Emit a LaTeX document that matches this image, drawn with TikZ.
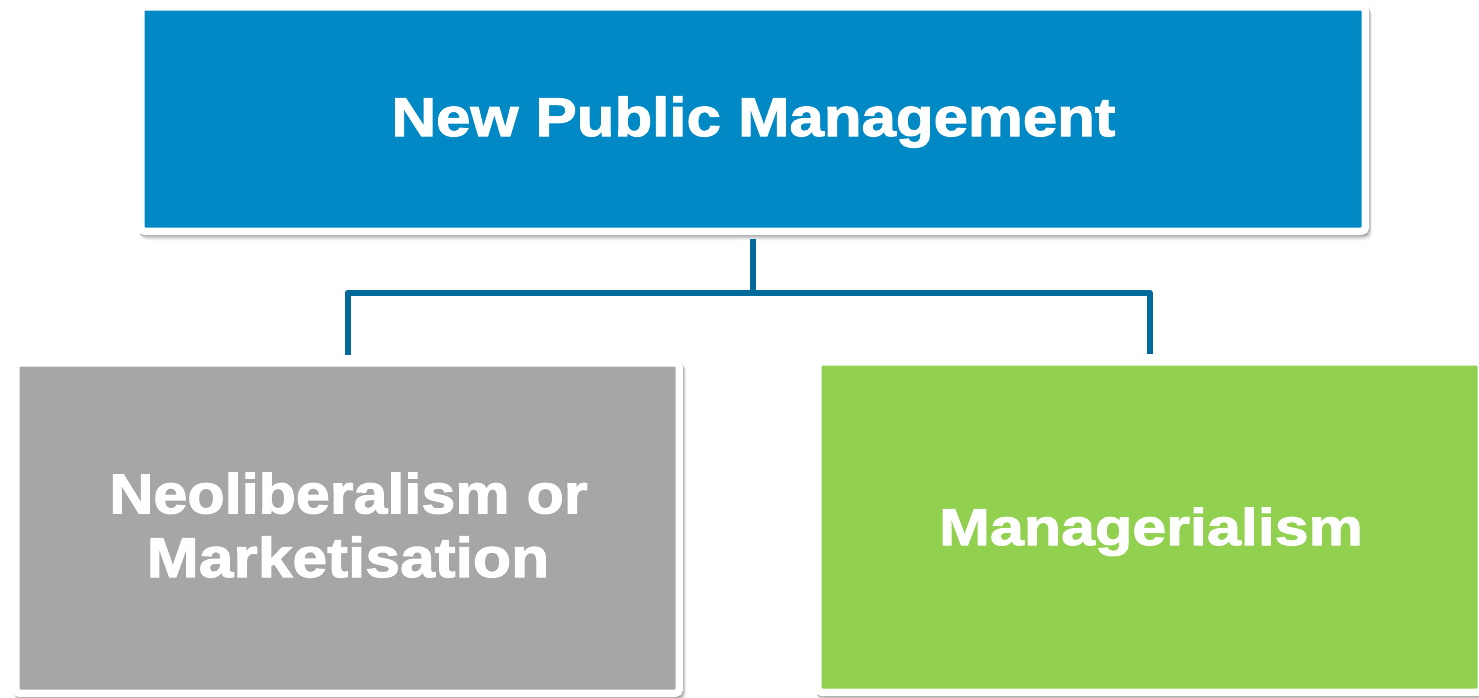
\documentclass[tikz,border=0pt]{standalone}
\usepackage{fontspec}
\setmainfont{Liberation Sans}
\newfontfamily\fontTop[FakeStretch=1.133,FakeBold=2]{Liberation Sans}
\newfontfamily\fontLeft[FakeStretch=1.09,FakeBold=2]{Liberation Sans}
\newfontfamily\fontLeftB[FakeStretch=1.115,FakeBold=2]{Liberation Sans}
\newfontfamily\fontRight[FakeStretch=1.18,FakeBold=2]{Liberation Sans}
\definecolor{npmblue}{RGB}{0,137,196}
\definecolor{neogray}{RGB}{166,166,166}
\definecolor{mangreen}{RGB}{146,208,80}
\definecolor{connblue}{RGB}{2,106,154}
\begin{document}
\begin{tikzpicture}[x=1pt,y=-1pt,
  shadowed/.style={
    preaction={draw=black, fill=black, draw opacity=0.11, fill opacity=0.11, transform canvas={xshift=0.8pt,yshift=-1.2pt}},
    preaction={draw=black, fill=black, draw opacity=0.10, fill opacity=0.10, transform canvas={xshift=1.6pt,yshift=-2.6pt}},
    preaction={draw=black, fill=black, draw opacity=0.07, fill opacity=0.07, transform canvas={xshift=2.4pt,yshift=-4pt}},
    preaction={draw=black, fill=black, draw opacity=0.05, fill opacity=0.05, transform canvas={xshift=3.2pt,yshift=-5.4pt}}},
  box/.style={shadowed, draw=white, line width=7.5pt, rounded corners=4pt, inner sep=0pt,
    minimum width=663.5pt, minimum height=330.5pt},
  topbox/.style={box, minimum width=1224.5pt, minimum height=224.5pt},
  lbl/.style={text=white, inner sep=0pt, anchor=base},
  conn/.style={draw=connblue, line width=6pt, line join=round}]
\useasboundingbox (0,0) rectangle (1479,697);
\clip (0,0) rectangle (1479,697);
% boxes
\node[topbox, fill=npmblue] (npm) at (753,119) {};
\node[box, fill=neogray] (nl) at (347.5,528) {};
\node[box, fill=mangreen] (mg) at (1149.5,527) {};
% connectors
\coordinate (mid) at (753,292.5);
\draw[conn] ([yshift=-3.75pt]npm.south) -- (mid);
\draw[conn] ([yshift=3.75pt]nl.north) |- (mid) -| ([yshift=3.75pt]mg.north);
% labels
\node[lbl, font=\fontTop\bfseries\fontsize{54.5}{60}\selectfont] (tnpm) at (753.5,136) {New Public Management};
\node[lbl, font=\fontLeft\bfseries\fontsize{56}{64}\selectfont] (tnl1) at (348.5,513.3) {Neoliberalism or};
\node[lbl, font=\fontLeftB\bfseries\fontsize{56}{64}\selectfont] (tnl2) at (348,577) {Marketisation};
\node[lbl, font=\fontRight\bfseries\fontsize{51.7}{60}\selectfont] (tmg) at (1151,545) {Managerialism};
\end{tikzpicture}
\end{document}
